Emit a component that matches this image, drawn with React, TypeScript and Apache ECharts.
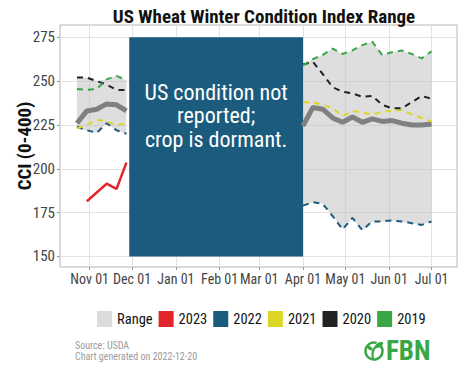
import React, { useEffect, useRef } from "react";
import * as echarts from "echarts";

const FONT = "'Roboto Condensed', 'Liberation Sans Narrow', 'DejaVu Sans Condensed', sans-serif";

const MONTHS = ["Jan", "Feb", "Mar", "Apr", "May", "Jun", "Jul", "Aug", "Sep", "Oct", "Nov", "Dec"];
const monthTicks = ["2022-11-01", "2022-12-01", "2023-01-01", "2023-02-01", "2023-03-01", "2023-04-01", "2023-05-01", "2023-06-01", "2023-07-01"];
const yTicks = [150, 175, 200, 225, 250, 275];

const fallDates = ["2022-10-23", "2022-10-30", "2022-11-06", "2022-11-13", "2022-11-20", "2022-11-27"];
const springDates = ["2023-04-01", "2023-04-08", "2023-04-15", "2023-04-22", "2023-04-29", "2023-05-06", "2023-05-13", "2023-05-20", "2023-05-27", "2023-06-03", "2023-06-10", "2023-06-17", "2023-06-24", "2023-07-01"];

const avgFall = [226, 233, 234, 237, 236.5, 233];
const avgSpring = [224.5, 235, 234, 229, 226.5, 229.5, 226.5, 228.5, 227, 227.5, 226, 225, 225, 225.5];

const dates2023 = ["2022-10-30", "2022-11-13", "2022-11-20", "2022-11-27"];
const vals2023 = [181.5, 191.5, 188.5, 203.5];

const fall2022 = [224, 222, 220.5, 226, 222, 220];
const spring2022 = [179, 181, 180, 173, 165.5, 172, 165, 170, 170, 170.5, 170, 169, 168, 170];
const fall2021 = [223, 225, 228, 227, 225, 226];
const spring2021 = [238, 238, 236.5, 234.5, 230, 233, 232, 231, 232.5, 233, 233.5, 231, 229, 227];
const fall2020 = [252, 252, 250, 248, 245, 245];
const spring2020 = [259.5, 261, 254, 246.5, 244, 243, 241, 241.5, 236.5, 234.5, 234.5, 238, 241.5, 240];
const fall2019 = [245.5, 245, 245.5, 251, 253, 250.5];
const spring2019 = [259, 262.5, 265, 268.5, 265.5, 267.5, 270.5, 272.5, 265, 266.5, 267.5, 265.5, 263, 267];

const dormantStart = "2022-11-29";
const dormantEnd = "2023-04-01";
const axisMin = "2022-10-11";
const axisMax = "2023-07-19";

const COLORS: Record<string, string> = {
  Range: "#dcdcdc",
  "2023": "#e3262b",
  "2022": "#1b5b7d",
  "2021": "#ddd626",
  "2020": "#222222",
  "2019": "#3aa646",
};
const LOGO_GREEN = "#3aa646";

function ts(s: string): number {
  const [y, m, d] = s.split("-").map(Number);
  return new Date(y, m - 1, d).getTime();
}

function pairs(dates: string[], vals: number[]) {
  return dates.map((d, i) => [ts(d), vals[i]]);
}

const yearSets = [
  { name: "2022", fall: fall2022, spring: spring2022 },
  { name: "2021", fall: fall2021, spring: spring2021 },
  { name: "2020", fall: fall2020, spring: spring2020 },
  { name: "2019", fall: fall2019, spring: spring2019 },
];

function band(dates: string[], key: "fall" | "spring") {
  const hi = dates.map((_, i) => Math.max(...yearSets.map((y) => y[key][i])));
  const lo = dates.map((_, i) => Math.min(...yearSets.map((y) => y[key][i])));
  return { dates, hi, lo };
}

const bands = [band(fallDates, "fall"), band(springDates, "spring")];

function line(name: string, data: number[][], color: string, width: number, dashed: boolean, z: number) {
  return {
    type: "line",
    name,
    data,
    symbol: "none",
    showSymbol: false,
    silent: true,
    z,
    itemStyle: { color },
    lineStyle: { color, width, type: dashed ? [6, 5] : "solid", cap: "butt" },
  };
}

export default function App() {
  const ref = useRef<HTMLDivElement>(null);
  useEffect(() => {
    if (!ref.current) return;
    const chart = echarts.init(ref.current, null, { renderer: "svg" });
    const series: any[] = [];
    series.push({
      type: "custom",
      name: "Range",
      coordinateSystem: "cartesian2d",
      silent: true,
      z: 1,
      itemStyle: { color: COLORS.Range },
      encode: { x: 0, y: 1 },
      data: bands.map((b) => [ts(b.dates[0]), b.hi[0]]),
      renderItem: (params: any, api: any) => {
        const b = bands[params.dataIndex];
        const top = b.dates.map((d, i) => api.coord([ts(d), b.hi[i]]));
        const bot = b.dates.map((d, i) => api.coord([ts(d), b.lo[i]])).reverse();
        return {
          type: "polygon",
          shape: { points: top.concat(bot) },
          style: { fill: "rgba(190,190,190,0.5)" },
        };
      },
    });
    series.push(line("Average", pairs(fallDates, avgFall), "#808080", 5, false, 2));
    series.push(line("Average", pairs(springDates, avgSpring), "#808080", 5, false, 2));
    series.push(line("2023", pairs(dates2023, vals2023), COLORS["2023"], 2.5, false, 3));
    yearSets.forEach((y) => {
      series.push(line(y.name, pairs(fallDates, y.fall), COLORS[y.name], 2, true, 3));
      series.push(line(y.name, pairs(springDates, y.spring), COLORS[y.name], 2, true, 3));
    });
    series.push({
      type: "line",
      name: "dormant",
      data: [],
      z: 6,
      silent: true,
      markArea: {
        silent: true,
        itemStyle: { color: "#1b5b7d", opacity: 1 },
        label: {
          show: true,
          position: "inside",
          offset: [0, -31],
          color: "#ffffff",
          fontSize: 22,
          lineHeight: 23.5,
          fontFamily: FONT,
          align: "center",
          formatter: "US condition not\nreported;\ncrop is dormant.",
        },
        data: [[{ xAxis: ts(dormantStart), yAxis: 150 }, { xAxis: ts(dormantEnd), yAxis: 275 }]],
      },
    });

    const legendNames = ["Range", "2023", "2022", "2021", "2020", "2019"];

    chart.setOption({
      animation: false,
      backgroundColor: "#ffffff",
      title: {
        text: "US Wheat Winter Condition Index Range",
        left: 259,
        top: 2,
        textAlign: "center",
        textStyle: { fontFamily: FONT, fontWeight: "bold", fontSize: 19, color: "#111" },
      },
      legend: {
        data: legendNames.map((n) =>
          n === "Range"
            ? { name: n, textStyle: { padding: [0, 6, 0, 0] } }
            : { name: n }
        ),
        left: 97,
        top: 311,
        padding: 0,
        icon: "rect",
        itemWidth: 15,
        itemHeight: 16,
        itemGap: 6,
        selectedMode: false,
        textStyle: { fontFamily: FONT, fontSize: 14.5, color: "#111" },
      },
      grid: {
        left: 60,
        right: 17,
        top: 25,
        bottom: 109,
        containLabel: false,
        outerBoundsMode: "none",
        show: true,
        borderColor: "#b5b5b5",
        borderWidth: 1,
        backgroundColor: "#ffffff",
      },
      xAxis: {
        type: "value",
        min: ts(axisMin),
        max: ts(axisMax),
        axisLine: { show: false },
        axisTick: { show: true, length: 3, lineStyle: { color: "#999" }, customValues: monthTicks.map(ts) },
        axisLabel: {
          customValues: monthTicks.map(ts),
          margin: 5,
          fontFamily: FONT,
          fontSize: 14,
          color: "#444",
          hideOverlap: false,
          showMinLabel: true,
          showMaxLabel: true,
          formatter: (v: number) => {
            const d = new Date(v);
            return MONTHS[d.getMonth()] + " " + String(d.getDate()).padStart(2, "0");
          },
        },
        splitLine: { show: true, lineStyle: { color: "#e2e2e2", width: 1 } },
      },
      yAxis: {
        type: "value",
        min: 144,
        max: 282,
        name: "CCI (0-400)",
        nameLocation: "middle",
        nameGap: 26,
        nameMoveOverlap: false,
        nameTextStyle: { fontFamily: FONT, fontWeight: "bold", fontSize: 19, color: "#111" },
        axisLine: { show: false },
        axisTick: { show: true, length: 3, lineStyle: { color: "#999" }, customValues: yTicks },
        axisLabel: { customValues: yTicks, margin: 5, fontFamily: FONT, fontSize: 15, color: "#444", showMinLabel: true, showMaxLabel: true },
        splitLine: { show: true, lineStyle: { color: "#e2e2e2", width: 1 } },
      },
      graphic: [
        {
          type: "text",
          left: 75,
          top: 340,
          style: { text: "Source: USDA", fontFamily: FONT, fontSize: 10, fill: "#9a9a9a" },
        },
        {
          type: "text",
          left: 75,
          top: 351,
          style: { text: "Chart generated on 2022-12-20", fontFamily: FONT, fontSize: 10, fill: "#9a9a9a" },
        },
        {
          type: "arc",
          shape: { cx: 374, cy: 351, r: 8.5, startAngle: -Math.PI * 0.22, endAngle: Math.PI * 1.6, clockwise: true },
          style: { stroke: LOGO_GREEN, lineWidth: 2.5, fill: "none" },
        },
        {
          type: "bezierCurve",
          shape: { x1: 373, y1: 359, x2: 383, y2: 343, cpx1: 371, cpy1: 350, cpx2: 376, cpy2: 345 },
          style: { stroke: LOGO_GREEN, lineWidth: 2.2, fill: "none" },
        },
        {
          type: "ellipse",
          shape: { cx: 379, cy: 345, rx: 4.5, ry: 2.3 },
          rotation: Math.PI / 6,
          originX: 379,
          originY: 345,
          style: { fill: LOGO_GREEN },
        },
        {
          type: "ellipse",
          shape: { cx: 370, cy: 348, rx: 3.3, ry: 1.7 },
          rotation: -Math.PI / 5,
          originX: 370,
          originY: 348,
          style: { fill: LOGO_GREEN },
        },
        {
          type: "text",
          left: 386,
          top: 337,
          style: { text: "FBN", fontFamily: FONT, fontWeight: "bold", fontSize: 27, fill: LOGO_GREEN },
        },
      ],
      series,
    });
    return () => chart.dispose();
  }, []);
  return <div ref={ref} style={{ position: "fixed", left: 0, top: 0, width: 474, height: 376 }} />;
}
